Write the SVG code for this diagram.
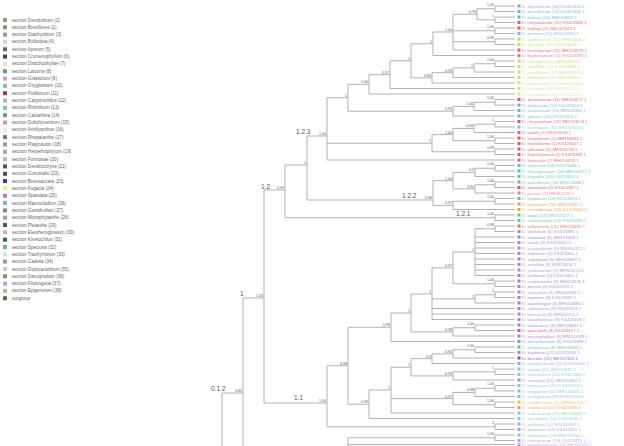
<svg xmlns="http://www.w3.org/2000/svg" width="624" height="446" viewBox="0 0 624 446">
<style>
.br{stroke:#a9a9a9;stroke-width:0.9;fill:none}
.sup{font-family:"Liberation Sans",Arial,sans-serif;font-size:3.6px;fill:#555;text-anchor:end}
.cl{font-family:"Liberation Sans",Arial,sans-serif;font-size:6.5px;fill:#555}
.lf{font-family:"Liberation Sans",Arial,sans-serif;font-size:4.4px;opacity:0.85}
.lg{font-family:"Liberation Sans",Arial,sans-serif;font-size:4.6px;fill:#666}
</style>
<rect width="624" height="446" fill="#fff"/>
<g id="legend">
<rect x="3" y="18" width="4" height="4" fill="#8f9c7c"/><text class="lg" x="12" y="21.5">section Dendrobium (1)</text>
<rect x="3" y="25.3" width="4" height="4" fill="#8a8f70"/><text class="lg" x="12" y="28.8">section Breviflores (2)</text>
<rect x="3" y="32.6" width="4" height="4" fill="#9a9a9a"/><text class="lg" x="12" y="36.1">section Stachyobium (3)</text>
<rect x="3" y="39.9" width="4" height="4" fill="#d8d8b8"/><text class="lg" x="12" y="43.4">section Bolbodea (4)</text>
<rect x="3" y="47.3" width="4" height="4" fill="#666"/><text class="lg" x="12" y="50.8">section Aporum (5)</text>
<rect x="3" y="54.6" width="4" height="4" fill="#444"/><text class="lg" x="12" y="58.1">section Crumenophyllum (6)</text>
<rect x="3" y="61.9" width="4" height="4" fill="#e8e8b8"/><text class="lg" x="12" y="65.4">section Distichophyllae (7)</text>
<rect x="3" y="69.2" width="4" height="4" fill="#5e9e90"/><text class="lg" x="12" y="72.7">section Latouria (8)</text>
<rect x="3" y="76.6" width="4" height="4" fill="#c9a0b8"/><text class="lg" x="12" y="80.1">section Grastidium (9)</text>
<rect x="3" y="83.9" width="4" height="4" fill="#8cb8d8"/><text class="lg" x="12" y="87.4">section Oxyglossum (10)</text>
<rect x="3" y="91.2" width="4" height="4" fill="#a83848"/><text class="lg" x="12" y="94.7">section Pedilonum (11)</text>
<rect x="3" y="98.5" width="4" height="4" fill="#b8b890"/><text class="lg" x="12" y="102">section Calyptrochilus (12)</text>
<rect x="3" y="105.8" width="4" height="4" fill="#78c8b8"/><text class="lg" x="12" y="109.3">section Rhizobium (13)</text>
<rect x="3" y="113.2" width="4" height="4" fill="#58a890"/><text class="lg" x="12" y="116.7">section Calcarifera (14)</text>
<rect x="3" y="120.5" width="4" height="4" fill="#d898a8"/><text class="lg" x="12" y="124">section Dolichocentrum (15)</text>
<rect x="3" y="127.8" width="4" height="4" fill="#eeeed8"/><text class="lg" x="12" y="131.3">section Amblyanthus (16)</text>
<rect x="3" y="135.1" width="4" height="4" fill="#777"/><text class="lg" x="12" y="138.6">section Rhopalanthe (17)</text>
<rect x="3" y="142.5" width="4" height="4" fill="#999"/><text class="lg" x="12" y="146">section Platycaulon (18)</text>
<rect x="3" y="149.8" width="4" height="4" fill="#aaa"/><text class="lg" x="12" y="153.3">section Herpethophytum (19)</text>
<rect x="3" y="157.1" width="4" height="4" fill="#bbb"/><text class="lg" x="12" y="160.6">section Formosae (20)</text>
<rect x="3" y="164.4" width="4" height="4" fill="#555"/><text class="lg" x="12" y="167.9">section Dendrocoryne (21)</text>
<rect x="3" y="171.8" width="4" height="4" fill="#445066"/><text class="lg" x="12" y="175.3">section Conostalix (22)</text>
<rect x="3" y="179.1" width="4" height="4" fill="#3a3aa0"/><text class="lg" x="12" y="182.6">section Brevisaccata (23)</text>
<rect x="3" y="186.4" width="4" height="4" fill="#eeee9a"/><text class="lg" x="12" y="189.9">section Fugacia (24)</text>
<rect x="3" y="193.7" width="4" height="4" fill="#b878d8"/><text class="lg" x="12" y="197.2">section Spatulata (25)</text>
<rect x="3" y="201" width="4" height="4" fill="#68c8b0"/><text class="lg" x="12" y="204.5">section Macrocladium (26)</text>
<rect x="3" y="208.4" width="4" height="4" fill="#888"/><text class="lg" x="12" y="211.9">section Goniobulbon (27)</text>
<rect x="3" y="215.7" width="4" height="4" fill="#9aa89a"/><text class="lg" x="12" y="219.2">section Microphytanthe (28)</text>
<rect x="3" y="223" width="4" height="4" fill="#555"/><text class="lg" x="12" y="226.5">section Pleianthe (29)</text>
<rect x="3" y="230.3" width="4" height="4" fill="#e8a8b8"/><text class="lg" x="12" y="233.8">section Eleutheroglossum (30)</text>
<rect x="3" y="237.7" width="4" height="4" fill="#3a6850"/><text class="lg" x="12" y="241.2">section Kinetochilus (31)</text>
<rect x="3" y="245" width="4" height="4" fill="#68b898"/><text class="lg" x="12" y="248.5">section Speciosa (32)</text>
<rect x="3" y="252.3" width="4" height="4" fill="#ddd"/><text class="lg" x="12" y="255.8">section Trachyrhizum (33)</text>
<rect x="3" y="259.6" width="4" height="4" fill="#999"/><text class="lg" x="12" y="263.1">section Cadetia (34)</text>
<rect x="3" y="267" width="4" height="4" fill="#ccc"/><text class="lg" x="12" y="270.5">section Diplocaulobium (35)</text>
<rect x="3" y="274.3" width="4" height="4" fill="#888"/><text class="lg" x="12" y="277.8">section Sarcopodium (36)</text>
<rect x="3" y="281.6" width="4" height="4" fill="#aaaae8"/><text class="lg" x="12" y="285.1">section Flickingeria (37)</text>
<rect x="3" y="288.9" width="4" height="4" fill="#98c898"/><text class="lg" x="12" y="292.4">section Epigeneium (38)</text>
<rect x="3" y="296.2" width="4" height="4" fill="#556655"/><text class="lg" x="12" y="299.7">outgroup</text>
</g>
<g id="connectors">
<path class="br" d="
M495 6V11.5M495 6H515M495 11.5H515
M495 17V22.5M495 17H515M495 22.5H515
M477 8.75V19.75M477 8.75H495M477 19.75H495
M495 28V33.5M495 28H515M495 33.5H515
M495 39V44.5M495 39H515M495 44.5H515
M453 14.25V50M453 14.25H477M453 30.75H495M453 41.75H495M453 50H515
M433 32V55.5M433 32H453M433 55.5H515
M495 61V66.5M495 61H515M495 66.5H515
M474 63.75V72M474 63.75H495M474 72H515
M453 67.9V77.5M453 67.9H474M453 77.5H515
M432 72.7V83M432 72.7H453M432 83H515
M411 43.75V77.85M411 43.75H433M411 77.85H432
M390 60.8V88.5M390 60.8H411M390 88.5H515
M369 74.65V94M369 74.65H390M369 94H515
M495 99.5V105M495 99.5H515M495 105H515
M474 102.25V110.5M474 102.25H495M474 110.5H515
M453 106.4V116M453 106.4H474M453 116H515
M348 84.3V111.2M348 84.3H369M348 111.2H453
M495 121.5V127M495 121.5H515M495 127H515
M474 124.25V132.5M474 124.25H495M474 132.5H515
M495 138V143.5M495 138H515M495 143.5H515
M453 128.4V140.75M453 128.4H474M453 140.75H495
M495 149V154.5M495 149H515M495 154.5H515
M432 134.6V151.75M432 134.6H453M432 151.75H495
M327 97.75V160M327 97.75H348M327 143.2H432M327 160H515
M495 165.5V171M495 165.5H515M495 171H515
M475 168.25V176.5M475 168.25H495M475 176.5H515
M495 182V187.5M495 182H515M495 187.5H515
M475 184.75V193M475 184.75H495M475 193H515
M453 172.4V188.9M453 172.4H475M453 188.9H475
M495 198.5V204M495 198.5H515M495 204H515
M453 201.25V209.5M453 201.25H495M453 209.5H515
M433 180.65V205.4M433 180.65H453M433 205.4H453
M307 136V200M307 136H327M307 200H433
M495 215V220.5M495 215H515M495 220.5H515
M285 165V217.75M285 165H307M285 217.75H495
M495 226V231.5M495 226H515M495 231.5H515
M475 228.75V275.5M475 228.75H495M475 237H515M475 242.5H515M475 248H515M475 253.5H515M475 259H515M475 264.5H515M475 270H515M475 275.5H515
M495 281V286.5M495 281H515M495 286.5H515
M453 252V283.75M453 252H475M453 283.75H495
M495 292V297.5M495 292H515M495 297.5H515
M475 294.75V303M475 294.75H495M475 303H515
M432 267.9V319.5M432 267.9H453M432 298.9H475M432 308.5H515M432 314H515M432 319.5H515
M475 325V330.5M475 325H515M475 330.5H515
M453 327.75V336M453 327.75H475M453 336H515
M411 294V331.9M411 294H432M411 331.9H453
M391 313V341.5M391 313H411M391 341.5H515
M475 347V352.5M475 347H515M475 352.5H515
M453 349.75V358M453 349.75H475M453 358H515
M432 353.9V363.5M432 353.9H453M432 363.5H515
M495 369V374.5M495 369H515M495 374.5H515
M453 371.75V380M453 371.75H495M453 380H515
M411 358.7V375.9M411 358.7H432M411 375.9H453
M495 385.5V391M495 385.5H515M495 391H515
M475 388.25V396.5M475 388.25H495M475 396.5H515
M495 402V407.5M495 402H515M495 407.5H515
M453 392.4V404.75M453 392.4H475M453 404.75H495
M391 367.3V413M391 367.3H411M391 398.6H453M391 413H515
M369 390V418.5M369 390H391M369 418.5H515
M348 327.25V404.25M348 327.25H391M348 404.25H369
M495 424V429.5M495 424H515M495 429.5H515
M327 365.75V426.75M327 365.75H348M327 426.75H495
M264 190V403M264 190H285M264 403H327
M495 435V440.5M495 435H515M495 440.5H515
M348 437.75V460M348 437.75H495M348 444.5H515
M243 298V460M243 298H264
M222 393V460M222 393H243"/>
</g>
<g id="support">
<text class="sup" x="494" y="5.5">1.00</text>
<text class="sup" x="494" y="16.5">1</text>
<text class="sup" x="476" y="13.2">0.76</text>
<text class="sup" x="494" y="27.5">1.00</text>
<text class="sup" x="494" y="38.5">0.99</text>
<text class="sup" x="452" y="31">1.00</text>
<text class="sup" x="432" y="42.7">1</text>
<text class="sup" x="494" y="60.5">1.00</text>
<text class="sup" x="473" y="66.9">1</text>
<text class="sup" x="452" y="71.7">0.93</text>
<text class="sup" x="431" y="76.8">0.85</text>
<text class="sup" x="410" y="59.8">1</text>
<text class="sup" x="389" y="73.6">0.97</text>
<text class="sup" x="368" y="83.3">1.00</text>
<text class="sup" x="347" y="96.7">1</text>
<text class="sup" x="494" y="99">1.00</text>
<text class="sup" x="473" y="105.4">1.00</text>
<text class="sup" x="452" y="110.2">0.92</text>
<text class="sup" x="494" y="121">1</text>
<text class="sup" x="473" y="127.4">0.99</text>
<text class="sup" x="494" y="137.5">1.00</text>
<text class="sup" x="452" y="133.6">1.00</text>
<text class="sup" x="494" y="148.5">0.99</text>
<text class="sup" x="431" y="142.2">1</text>
<text class="sup" x="326" y="135">1.00</text>
<text class="sup" x="494" y="165">1.00</text>
<text class="sup" x="474" y="171.4">0.9</text>
<text class="sup" x="494" y="181.5">1.00</text>
<text class="sup" x="474" y="187.9">0.95</text>
<text class="sup" x="452" y="179.6">1.00</text>
<text class="sup" x="494" y="198">1.00</text>
<text class="sup" x="452" y="204.4">0.97</text>
<text class="sup" x="432" y="199">0.96</text>
<text class="sup" x="306" y="164">1</text>
<text class="sup" x="494" y="214.5">1.00</text>
<text class="sup" x="284" y="189">0.99</text>
<text class="sup" x="494" y="225.5">0.98</text>
<text class="sup" x="474" y="251">1</text>
<text class="sup" x="494" y="280.5">1.00</text>
<text class="sup" x="452" y="266.9">0.97</text>
<text class="sup" x="494" y="291.5">1</text>
<text class="sup" x="474" y="297.9">1</text>
<text class="sup" x="431" y="293">1</text>
<text class="sup" x="474" y="324.5">1.00</text>
<text class="sup" x="452" y="330.9">0.98</text>
<text class="sup" x="410" y="312">1</text>
<text class="sup" x="390" y="326.2">0.96</text>
<text class="sup" x="474" y="346.5">1.00</text>
<text class="sup" x="452" y="352.9">0.92</text>
<text class="sup" x="431" y="357.7">0.9</text>
<text class="sup" x="494" y="368.5">1</text>
<text class="sup" x="452" y="374.9">0.99</text>
<text class="sup" x="410" y="366.3">1</text>
<text class="sup" x="494" y="385">1.00</text>
<text class="sup" x="474" y="391.4">0.98</text>
<text class="sup" x="494" y="401.5">1.00</text>
<text class="sup" x="452" y="397.6">0.97</text>
<text class="sup" x="390" y="389">1</text>
<text class="sup" x="368" y="403.2">0.99</text>
<text class="sup" x="347" y="364.7">0.98</text>
<text class="sup" x="494" y="423.5">1</text>
<text class="sup" x="326" y="402">1.00</text>
<text class="sup" x="263" y="297">1.00</text>
<text class="sup" x="494" y="434.5">1.00</text>
<text class="sup" x="242" y="392">0.82</text>
</g>
<g id="clade-labels">
<text class="cl" x="296" y="133.5">1.2.3</text>
<text class="cl" x="402" y="198">1.2.2</text>
<text class="cl" x="456" y="216">1.2.1</text>
<text class="cl" x="261" y="188.5">1.2</text>
<text class="cl" x="240" y="296">1</text>
<text class="cl" x="294" y="400">1.1</text>
<text class="cl" x="211" y="391">0.1.2</text>
</g>
<g id="leaves">
<g id="leaf-0"><rect x="517.5" y="4.5" width="3" height="3" fill="#6aaee0"/><text class="lf" x="522" y="7.6" fill="#6aaee0">D. thyrsiflorum (10) KX423412.1</text></g>
<g id="leaf-1"><rect x="517.5" y="10" width="3" height="3" fill="#6aaee0"/><text class="lf" x="522" y="13.1" fill="#6aaee0">D. densiflorum (10) KX423405.1</text></g>
<g id="leaf-2"><rect x="517.5" y="15.5" width="3" height="3" fill="#5cb8e0"/><text class="lf" x="522" y="18.6" fill="#5cb8e0">D. farmeri (10) MH153682.1</text></g>
<g id="leaf-3"><rect x="517.5" y="21" width="3" height="3" fill="#e8506a"/><text class="lf" x="522" y="24.1" fill="#e8506a">D. chrysotoxum (11) KX423398.1</text></g>
<g id="leaf-4"><rect x="517.5" y="26.5" width="3" height="3" fill="#e8506a"/><text class="lf" x="522" y="29.6" fill="#e8506a">D. lindleyi (11) MK167322.1</text></g>
<g id="leaf-5"><rect x="517.5" y="32" width="3" height="3" fill="#7ab8e8"/><text class="lf" x="522" y="35.1" fill="#7ab8e8">D. jenkinsii (10) MH153684.1</text></g>
<g id="leaf-6"><rect x="517.5" y="37.5" width="3" height="3" fill="#c4dc6c"/><text class="lf" x="522" y="40.6" fill="#c4dc6c">D. griffithianum (12) MF944216.1</text></g>
<g id="leaf-7"><rect x="517.5" y="43" width="3" height="3" fill="#c4dc6c"/><text class="lf" x="522" y="46.1" fill="#c4dc6c">D. sulcatum (12) KX423418.1</text></g>
<g id="leaf-8"><rect x="517.5" y="48.5" width="3" height="3" fill="#e8506a"/><text class="lf" x="522" y="51.6" fill="#e8506a">D. harveyanum (11) MH153679.1</text></g>
<g id="leaf-9"><rect x="517.5" y="54" width="3" height="3" fill="#f06a88"/><text class="lf" x="522" y="57.1" fill="#f06a88">D. brymerianum (11) KX423391.1</text></g>
<g id="leaf-10"><rect x="517.5" y="59.5" width="3" height="3" fill="#d4dc60"/><text class="lf" x="522" y="62.6" fill="#d4dc60">D. capillipes (12) MN200374.1</text></g>
<g id="leaf-11"><rect x="517.5" y="65" width="3" height="3" fill="#c4e07c"/><text class="lf" x="522" y="68.1" fill="#c4e07c">D. aphyllum (12) KX423388.1</text></g>
<g id="leaf-12"><rect x="517.5" y="70.5" width="3" height="3" fill="#c4e07c"/><text class="lf" x="522" y="73.6" fill="#c4e07c">D. cucullatum (12) MH153676.1</text></g>
<g id="leaf-13"><rect x="517.5" y="76" width="3" height="3" fill="#c8dc70"/><text class="lf" x="522" y="79.1" fill="#c8dc70">D. pendulum (12) KX423409.1</text></g>
<g id="leaf-14"><rect x="517.5" y="81.5" width="3" height="3" fill="#d0e07a"/><text class="lf" x="522" y="84.6" fill="#d0e07a">D. primulinum (12) KX423410.1</text></g>
<g id="leaf-15"><rect x="517.5" y="87" width="3" height="3" fill="#d8e48c"/><text class="lf" x="522" y="90.1" fill="#d8e48c">D. falconeri (12) MF944212.1</text></g>
<g id="leaf-16"><rect x="517.5" y="92.5" width="3" height="3" fill="#dce890"/><text class="lf" x="522" y="95.6" fill="#dce890">D. wardianum (12) KX423421.1</text></g>
<g id="leaf-17"><rect x="517.5" y="98" width="3" height="3" fill="#e85060"/><text class="lf" x="522" y="101.1" fill="#e85060">D. devonianum (11) MH153677.1</text></g>
<g id="leaf-18"><rect x="517.5" y="103.5" width="3" height="3" fill="#6ab0e0"/><text class="lf" x="522" y="106.6" fill="#6ab0e0">D. fimbriatum (10) KX423404.1</text></g>
<g id="leaf-19"><rect x="517.5" y="109" width="3" height="3" fill="#6ab0e0"/><text class="lf" x="522" y="112.1" fill="#6ab0e0">D. moschatum (10) MN200380.1</text></g>
<g id="leaf-20"><rect x="517.5" y="114.5" width="3" height="3" fill="#5cc0e8"/><text class="lf" x="522" y="117.6" fill="#5cc0e8">D. gibsonii (10) KX423406.1</text></g>
<g id="leaf-21"><rect x="517.5" y="120" width="3" height="3" fill="#e85060"/><text class="lf" x="522" y="123.1" fill="#e85060">D. chrysanthum (11) MH153674.1</text></g>
<g id="leaf-22"><rect x="517.5" y="125.5" width="3" height="3" fill="#60d0e8"/><text class="lf" x="522" y="128.6" fill="#60d0e8">D. ochreatum (10) MK167325.1</text></g>
<g id="leaf-23"><rect x="517.5" y="131" width="3" height="3" fill="#e85a70"/><text class="lf" x="522" y="134.1" fill="#e85a70">D. nobile (1) KX423408.1</text></g>
<g id="leaf-24"><rect x="517.5" y="136.5" width="3" height="3" fill="#e85060"/><text class="lf" x="522" y="139.6" fill="#e85060">D. linawianum (1) MH153685.1</text></g>
<g id="leaf-25"><rect x="517.5" y="142" width="3" height="3" fill="#e85060"/><text class="lf" x="522" y="145.1" fill="#e85060">D. moniliforme (1) KX423407.1</text></g>
<g id="leaf-26"><rect x="517.5" y="147.5" width="3" height="3" fill="#e85060"/><text class="lf" x="522" y="150.6" fill="#e85060">D. officinale (1) MF944218.1</text></g>
<g id="leaf-27"><rect x="517.5" y="153" width="3" height="3" fill="#e85060"/><text class="lf" x="522" y="156.1" fill="#e85060">D. huoshanense (1) KX423399.1</text></g>
<g id="leaf-28"><rect x="517.5" y="158.5" width="3" height="3" fill="#e86070"/><text class="lf" x="522" y="161.6" fill="#e86070">D. flexicaule (1) MH153678.1</text></g>
<g id="leaf-29"><rect x="517.5" y="164" width="3" height="3" fill="#50c8a8"/><text class="lf" x="522" y="167.1" fill="#50c8a8">D. aduncum (14) KX423386.1</text></g>
<g id="leaf-30"><rect x="517.5" y="169.5" width="3" height="3" fill="#50c8a8"/><text class="lf" x="522" y="172.6" fill="#50c8a8">D. hercoglossum (14) MN200377.1</text></g>
<g id="leaf-31"><rect x="517.5" y="175" width="3" height="3" fill="#50c8a8"/><text class="lf" x="522" y="178.1" fill="#50c8a8">D. linguella (14) KX423403.1</text></g>
<g id="leaf-32"><rect x="517.5" y="180.5" width="3" height="3" fill="#50c8a8"/><text class="lf" x="522" y="183.6" fill="#50c8a8">D. parciflorum (14) MH153688.1</text></g>
<g id="leaf-33"><rect x="517.5" y="186" width="3" height="3" fill="#e85060"/><text class="lf" x="522" y="189.1" fill="#e85060">D. anosmum (1) KX423387.1</text></g>
<g id="leaf-34"><rect x="517.5" y="191.5" width="3" height="3" fill="#f07898"/><text class="lf" x="522" y="194.6" fill="#f07898">D. parishii (1) MF944220.1</text></g>
<g id="leaf-35"><rect x="517.5" y="197" width="3" height="3" fill="#50c8a8"/><text class="lf" x="522" y="200.1" fill="#50c8a8">D. stuposum (14) KX423416.1</text></g>
<g id="leaf-36"><rect x="517.5" y="202.5" width="3" height="3" fill="#f0a040"/><text class="lf" x="522" y="205.6" fill="#f0a040">D. formosum (20) MH153680.1</text></g>
<g id="leaf-37"><rect x="517.5" y="208" width="3" height="3" fill="#f0a040"/><text class="lf" x="522" y="211.1" fill="#f0a040">D. infundibulum (20) KX423400.1</text></g>
<g id="leaf-38"><rect x="517.5" y="213.5" width="3" height="3" fill="#50c8b0"/><text class="lf" x="522" y="216.6" fill="#50c8b0">D. lobbii (13) MK167327.1</text></g>
<g id="leaf-39"><rect x="517.5" y="219" width="3" height="3" fill="#60c890"/><text class="lf" x="522" y="222.1" fill="#60c890">D. crumenatum (13) KX423393.1</text></g>
<g id="leaf-40"><rect x="517.5" y="224.5" width="3" height="3" fill="#f07050"/><text class="lf" x="522" y="227.6" fill="#f07050">D. williamsonii (20) MH153690.1</text></g>
<g id="leaf-41"><rect x="517.5" y="230" width="3" height="3" fill="#a080e0"/><text class="lf" x="522" y="233.1" fill="#a080e0">D. aloifolium (5) KX423385.1</text></g>
<g id="leaf-42"><rect x="517.5" y="235.5" width="3" height="3" fill="#9a7ad8"/><text class="lf" x="522" y="238.6" fill="#9a7ad8">D. terminale (5) MH153689.1</text></g>
<g id="leaf-43"><rect x="517.5" y="241" width="3" height="3" fill="#a080e0"/><text class="lf" x="522" y="244.1" fill="#a080e0">D. leonis (5) KX423402.1</text></g>
<g id="leaf-44"><rect x="517.5" y="246.5" width="3" height="3" fill="#a888e0"/><text class="lf" x="522" y="249.6" fill="#a888e0">D. acinaciforme (5) MN200372.1</text></g>
<g id="leaf-45"><rect x="517.5" y="252" width="3" height="3" fill="#a080e0"/><text class="lf" x="522" y="255.1" fill="#a080e0">D. indivisum (5) KX423401.1</text></g>
<g id="leaf-46"><rect x="517.5" y="257.5" width="3" height="3" fill="#9a7ad8"/><text class="lf" x="522" y="260.6" fill="#9a7ad8">D. subulatum (5) MH153687.1</text></g>
<g id="leaf-47"><rect x="517.5" y="263" width="3" height="3" fill="#a080e0"/><text class="lf" x="522" y="266.1" fill="#a080e0">D. rosellum (5) KX423414.1</text></g>
<g id="leaf-48"><rect x="517.5" y="268.5" width="3" height="3" fill="#a888e0"/><text class="lf" x="522" y="271.6" fill="#a888e0">D. jerdonianum (5) MF944214.1</text></g>
<g id="leaf-49"><rect x="517.5" y="274" width="3" height="3" fill="#a080e0"/><text class="lf" x="522" y="277.1" fill="#a080e0">D. uniflorum (5) KX423420.1</text></g>
<g id="leaf-50"><rect x="517.5" y="279.5" width="3" height="3" fill="#9a7ad8"/><text class="lf" x="522" y="282.6" fill="#9a7ad8">D. crumenatum (6) MH153675.1</text></g>
<g id="leaf-51"><rect x="517.5" y="285" width="3" height="3" fill="#a080e0"/><text class="lf" x="522" y="288.1" fill="#a080e0">D. pensile (6) KX423411.1</text></g>
<g id="leaf-52"><rect x="517.5" y="290.5" width="3" height="3" fill="#a888e0"/><text class="lf" x="522" y="293.6" fill="#a888e0">D. truncatum (6) MN200383.1</text></g>
<g id="leaf-53"><rect x="517.5" y="296" width="3" height="3" fill="#a080e0"/><text class="lf" x="522" y="299.1" fill="#a080e0">D. equitans (6) KX423397.1</text></g>
<g id="leaf-54"><rect x="517.5" y="301.5" width="3" height="3" fill="#9a7ad8"/><text class="lf" x="522" y="304.6" fill="#9a7ad8">D. spathilingue (6) MH153686.1</text></g>
<g id="leaf-55"><rect x="517.5" y="307" width="3" height="3" fill="#a080e0"/><text class="lf" x="522" y="310.1" fill="#a080e0">D. salaccense (9) KX423415.1</text></g>
<g id="leaf-56"><rect x="517.5" y="312.5" width="3" height="3" fill="#a888e0"/><text class="lf" x="522" y="315.6" fill="#a888e0">D. hancockii (9) MF944213.1</text></g>
<g id="leaf-57"><rect x="517.5" y="318" width="3" height="3" fill="#a080e0"/><text class="lf" x="522" y="321.1" fill="#a080e0">D. kwashotense (9) KX423419.1</text></g>
<g id="leaf-58"><rect x="517.5" y="323.5" width="3" height="3" fill="#9a7ad8"/><text class="lf" x="522" y="326.6" fill="#9a7ad8">D. hekouense (9) MH153681.1</text></g>
<g id="leaf-59"><rect x="517.5" y="329" width="3" height="3" fill="#e85060"/><text class="lf" x="522" y="332.1" fill="#e85060">D. spectabile (8) KX423417.1</text></g>
<g id="leaf-60"><rect x="517.5" y="334.5" width="3" height="3" fill="#a080e0"/><text class="lf" x="522" y="337.6" fill="#a080e0">D. macrophyllum (8) MN200379.1</text></g>
<g id="leaf-61"><rect x="517.5" y="340" width="3" height="3" fill="#8090e0"/><text class="lf" x="522" y="343.1" fill="#8090e0">D. atroviolaceum (8) KX423389.1</text></g>
<g id="leaf-62"><rect x="517.5" y="345.5" width="3" height="3" fill="#50c8a8"/><text class="lf" x="522" y="348.6" fill="#50c8a8">D. johnsoniae (8) MH153683.1</text></g>
<g id="leaf-63"><rect x="517.5" y="351" width="3" height="3" fill="#a080e0"/><text class="lf" x="522" y="354.1" fill="#a080e0">D. bigibbum (21) KX423390.1</text></g>
<g id="leaf-64"><rect x="517.5" y="356.5" width="3" height="3" fill="#7050d0"/><text class="lf" x="522" y="359.6" fill="#7050d0">D. discolor (21) MK167320.1</text></g>
<g id="leaf-65"><rect x="517.5" y="362" width="3" height="3" fill="#80b8e8"/><text class="lf" x="522" y="365.1" fill="#80b8e8">D. canaliculatum (21) KX423392.1</text></g>
<g id="leaf-66"><rect x="517.5" y="367.5" width="3" height="3" fill="#80d0c0"/><text class="lf" x="522" y="370.6" fill="#80d0c0">D. lineale (21) MH153691.1</text></g>
<g id="leaf-67"><rect x="517.5" y="373" width="3" height="3" fill="#90c0e8"/><text class="lf" x="522" y="376.1" fill="#90c0e8">D. antennatum (21) KX423384.1</text></g>
<g id="leaf-68"><rect x="517.5" y="378.5" width="3" height="3" fill="#a090e0"/><text class="lf" x="522" y="381.6" fill="#a090e0">D. stratiotes (21) MN200382.1</text></g>
<g id="leaf-69"><rect x="517.5" y="384" width="3" height="3" fill="#80d0c0"/><text class="lf" x="522" y="387.1" fill="#80d0c0">D. speciosum (32) KX423413.1</text></g>
<g id="leaf-70"><rect x="517.5" y="389.5" width="3" height="3" fill="#90b8e0"/><text class="lf" x="522" y="392.6" fill="#90b8e0">D. kingianum (32) MH153692.1</text></g>
<g id="leaf-71"><rect x="517.5" y="395" width="3" height="3" fill="#80c8d0"/><text class="lf" x="522" y="398.1" fill="#80c8d0">D. tetragonum (32) KX423394.1</text></g>
<g id="leaf-72"><rect x="517.5" y="400.5" width="3" height="3" fill="#f0c040"/><text class="lf" x="522" y="403.6" fill="#f0c040">D. cuthbertsonii (10) MF944211.1</text></g>
<g id="leaf-73"><rect x="517.5" y="406" width="3" height="3" fill="#f0a050"/><text class="lf" x="522" y="409.1" fill="#f0a050">D. vexillarius (10) KX423395.1</text></g>
<g id="leaf-74"><rect x="517.5" y="411.5" width="3" height="3" fill="#80d0c0"/><text class="lf" x="522" y="414.6" fill="#80d0c0">D. subclausum (11) MH153693.1</text></g>
<g id="leaf-75"><rect x="517.5" y="417" width="3" height="3" fill="#90c8e0"/><text class="lf" x="522" y="420.1" fill="#90c8e0">D. secundum (11) KX423396.1</text></g>
<g id="leaf-76"><rect x="517.5" y="422.5" width="3" height="3" fill="#80d0b8"/><text class="lf" x="522" y="425.6" fill="#80d0b8">D. smillieae (11) MN200381.1</text></g>
<g id="leaf-77"><rect x="517.5" y="428" width="3" height="3" fill="#a0a0e8"/><text class="lf" x="522" y="431.1" fill="#a0a0e8">D. delacourii (19) KX423422.1</text></g>
<g id="leaf-78"><rect x="517.5" y="433.5" width="3" height="3" fill="#80d0c0"/><text class="lf" x="522" y="436.6" fill="#80d0c0">D. bellatulum (19) MH153694.1</text></g>
<g id="leaf-79"><rect x="517.5" y="439" width="3" height="3" fill="#b0a0e0"/><text class="lf" x="522" y="442.1" fill="#b0a0e0">D. christyanum (19) KX423423.1</text></g>
<g id="leaf-80"><rect x="517.5" y="443" width="3" height="3" fill="#c0a8e8"/><text class="lf" x="522" y="445.8" fill="#c0a8e8">D. margaritaceum (19) MK167328.1</text></g>
</g>
</svg>
